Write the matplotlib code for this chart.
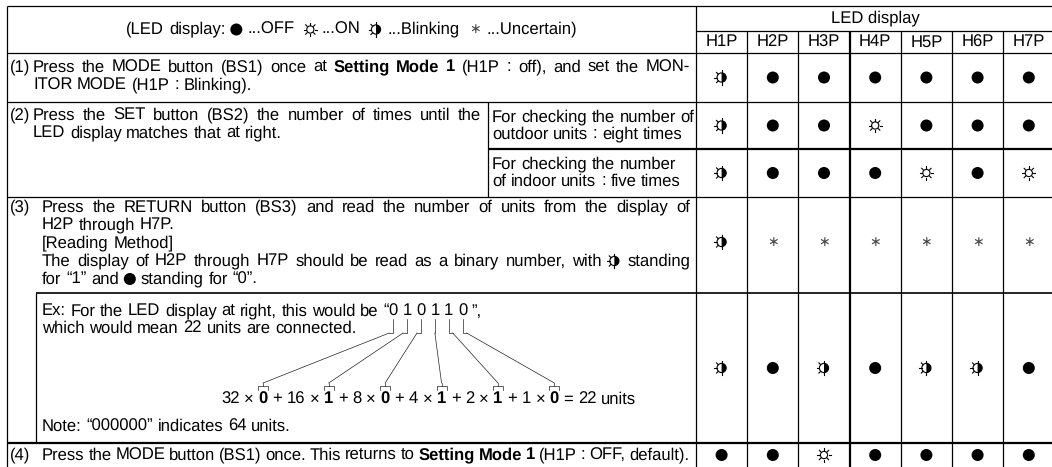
import re
import numpy as np
import matplotlib
matplotlib.use("Agg")
import matplotlib.pyplot as plt
from matplotlib.patches import Circle, Wedge

plt.rcParams["text.hinting"] = "no_hinting"

W, H = 1052, 467
FAM = ["Liberation Sans", "DejaVu Sans"]
FS = 12

# LED column labels and the state of each LED per table row
led_labels = ["H1P", "H2P", "H3P", "H4P", "H5P", "H6P", "H7P"]
row1_leds = ["blink", "off", "off", "off", "off", "off", "off"]
row2_out_leds = ["blink", "off", "off", "on", "off", "off", "off"]
row2_in_leds = ["blink", "off", "off", "off", "on", "off", "on"]
row3_leds = ["blink", "unc", "unc", "unc", "unc", "unc", "unc"]
ex_leds = ["blink", "off", "blink", "off", "blink", "blink", "off"]
row4_leds = ["off", "off", "on", "off", "off", "off", "off"]

# example binary reading
bits = ["0", "1", "0", "1", "1", "0"]
weights = ["32", "16", "8", "4", "2", "1"]
total = "22"

# table grid (pixels)
x_left, x_split, x_led, col_w = 7, 488, 696, 51.2
x_box = 36
y_top, y_sub, y_head, y_r1, y_r2m, y_r2, y_box, y_r4 = 6, 31, 53, 102, 149, 197, 293, 443

fig = plt.figure(figsize=(W / 100, H / 100), dpi=100)
ax = fig.add_axes([0, 0, 1, 1])
ax.set_xlim(0, W)
ax.set_ylim(H, 0)
ax.axis("off")
renderer = fig.canvas.get_renderer()

_widths = {}


def text_width(s, weight="normal"):
    if (s, weight) not in _widths:
        t = ax.text(0, 0, s, fontsize=FS, family=FAM, fontweight=weight)
        _widths[(s, weight)] = t.get_window_extent(renderer).width
        t.remove()
    return _widths[(s, weight)]


SPACE = text_width("a a") - text_width("aa")
SYM_W = 13


def draw_sym(kind, cx, cy):
    lw = 0.8
    if kind == "off":
        ax.add_patch(Circle((cx, cy), 6, color="black", lw=0))
    elif kind == "on":
        r = 3.6
        ax.add_patch(Circle((cx, cy), r, fill=False, ec="black", lw=lw))
        for a in range(0, 360, 45):
            c, s = np.cos(np.radians(a)), np.sin(np.radians(a))
            ax.plot([cx + (r + 1) * c, cx + (r + 3) * c],
                    [cy + (r + 1) * s, cy + (r + 3) * s], color="black", lw=lw)
    elif kind == "blink":
        r = 4.6
        ax.add_patch(Wedge((cx, cy), r, -90, 90, color="black", lw=0))
        ax.add_patch(Circle((cx, cy), r, fill=False, ec="black", lw=lw))
        for a in [90, 135, 180, 225, 270]:
            c, s = np.cos(np.radians(a)), np.sin(np.radians(a))
            ax.plot([cx + r * c, cx + (r + 2.6) * c],
                    [cy + r * s, cy + (r + 2.6) * s], color="black", lw=lw)
    else:
        ax.text(cx, cy, "\u2217", fontsize=10, color="#444", ha="center",
                va="center", family="DejaVu Sans")


def tokens(parts, by_word):
    out = []
    for i, p in enumerate(parts):
        kind, val = ("n", p) if isinstance(p, str) else p
        if kind == "sym":
            out.append(("sym", val, i))
            continue
        pieces = re.split(r"( )", val) if by_word else re.split(r"( +)", val)
        for tok in pieces:
            if tok and tok.strip(" ") == "":
                out.extend([("gap", None, i)] * len(tok))
            elif tok:
                out.append((kind, tok, i))
    return out


def tok_width(kind, val):
    if kind == "sym":
        return SYM_W
    if kind == "gap":
        return SPACE
    return text_width(val, "bold" if kind == "b" else "normal")


def line_width(parts):
    return sum(tok_width(k, v) for k, v, _ in tokens(parts, False))


def rich(x, y, parts, right=None):
    """Write plain / bold pieces and LED symbols on one line.
    If right is given the line is justified to end there. Returns part spans."""
    toks = tokens(parts, right is not None)
    extra = 0
    if right is not None:
        ngap = sum(1 for k, _, _ in toks if k == "gap")
        natural = sum(tok_width(k, v) for k, v, _ in toks)
        extra = (right - x - natural) / max(ngap, 1)
    spans = {}
    cur = x
    for kind, val, i in toks:
        w = tok_width(kind, val)
        if kind == "gap":
            cur += w + extra
            continue
        if kind == "sym":
            draw_sym(val, cur + w / 2, y)
        else:
            ax.text(cur, y, val, fontsize=FS, family=FAM, va="center", ha="left",
                    fontweight="bold" if kind == "b" else "normal")
        a, b = spans.get(i, (cur, cur))
        spans[i] = (min(a, cur), cur + w)
        cur += w
    return spans


def hline(y, x0, x1, lw=0.9):
    ax.plot([x0, x1], [y, y], color="black", lw=lw, solid_capstyle="butt")


def vline(x, y0, y1, lw=0.9):
    ax.plot([x, x], [y0, y1], color="black", lw=lw, solid_capstyle="butt")


x_right = x_led + col_w * len(led_labels)

# grid
hline(y_top, x_left, x_right)
hline(y_sub, x_led, x_right)
hline(y_head, x_left, x_right)
hline(y_r1, x_left, x_right)
hline(y_r2m, x_split, x_right, lw=1.6)
hline(y_r2, x_left, x_right)
hline(y_box, x_box, x_right, lw=1.2)
hline(y_r4, x_left, x_right, lw=1.6)
vline(x_left, y_top, H)
vline(x_led, y_top, H)
vline(x_split, y_r1, y_r2)
vline(x_box, y_box, y_r4)
for k in range(1, len(led_labels)):
    vline(x_led + k * col_w, y_sub, H, lw=1.6 if k == 3 else 0.9)

# header
left_head = ["(LED display: ", ("sym", "off"), " ...OFF  ", ("sym", "on"),
             " ...ON  ", ("sym", "blink"), " ...Blinking  ", ("sym", "unc"),
             " ...Uncertain)"]
rich((x_left + x_led) / 2 - line_width(left_head) / 2, (y_top + y_head) / 2, left_head)
ax.text((x_led + x_right) / 2, (y_top + y_sub) / 2, "LED display", fontsize=FS,
        family=FAM, ha="center", va="center")
for k, lab in enumerate(led_labels):
    ax.text(x_led + (k + 0.5) * col_w, (y_sub + y_head) / 2, lab, fontsize=FS,
            family=FAM, ha="center", va="center")

# row texts
x_num, x_txt, x_txt2 = 10, 33, 42
ax.text(x_num, 67, "(1)", fontsize=FS, family=FAM, va="center")
rich(x_txt, 67, ["Press the MODE button (BS1) once at ", ("b", "Setting Mode 1"),
                 " (H1P : off), and set the MON-"], right=690)
rich(x_txt, 85, ["ITOR MODE (H1P : Blinking)."])

ax.text(x_num, 115, "(2)", fontsize=FS, family=FAM, va="center")
rich(x_txt, 115, ["Press the SET button (BS2) the number of times until the"], right=481)
rich(x_txt, 133, ["LED display matches that at right."])
rich(x_split + 4, 117, ["For checking the number of"])
rich(x_split + 4, 134, ["outdoor units : eight times"])
rich(x_split + 4, 164, ["For checking the number"])
rich(x_split + 4, 181, ["of indoor units : five times"])

ax.text(x_num, 207, "(3)", fontsize=FS, family=FAM, va="center")
rich(x_txt2, 207, ["Press the RETURN button (BS3) and read the number of units from the display of"],
     right=690)
rich(x_txt2, 225, ["H2P through H7P."])
rich(x_txt2, 243, ["[Reading Method]"])
rich(x_txt2, 261, ["The display of H2P through H7P should be read as a binary number, with ",
                   ("sym", "blink"), " standing"], right=690)
rich(x_txt2, 279, ["for \u201c1\u201d and ", ("sym", "off"), " standing for \u201c0\u201d."])

# example box
x_ex = x_box + 6
ex_parts = ["Ex: For the LED display at right, this would be \u201c"]
for i, b in enumerate(bits):
    ex_parts.append(b)
    if i < len(bits) - 1:
        ex_parts.append(" ")
ex_parts.append(" \u201d,")
ex_spans = rich(x_ex, 311, ex_parts)
top_x = [sum(ex_spans[1 + 2 * i]) / 2 for i in range(len(bits))]
rich(x_ex, 328, ["which would mean 22 units are connected."])

eq_parts = []
for i, (wt, b) in enumerate(zip(weights, bits)):
    eq_parts.append((" + " if i else "") + wt + " \u00d7 ")
    eq_parts.append(("b", b))
eq_parts.append(" = " + total + " units")
eq_spans = rich(221, 399, eq_parts)
bot_x = [sum(eq_spans[2 * i + 1]) / 2 for i in range(len(bits))]
rich(x_ex, 426, ["Note: \u201c000000\u201d indicates 64 units."])

# connectors from the binary string to the weighted sum
clw = 0.5
for xt, xb in zip(top_x, bot_x):
    d = xb - xt
    direc = 0 if abs(d) < 20 else np.sign(d)
    ax.plot([xt, xt, xt + direc * 4], [319, 333, 333], color="#222", lw=clw)
    ax.plot([xt + direc * 4, xb], [333, 383], color="#222", lw=clw)
    ax.plot([xb, xb], [383, 386], color="#222", lw=clw)
    ax.plot([xb - 5, xb - 5, xb + 5, xb + 5], [390, 386, 386, 390], color="#222", lw=clw)

# row 4
ax.text(x_num, 455, "(4)", fontsize=FS, family=FAM, va="center")
rich(x_txt2, 455, ["Press the MODE button (BS1) once. This returns to ",
                   ("b", "Setting Mode 1"), " (H1P : OFF, default)."], right=689)

# LED symbols
led_rows = [(row1_leds, (y_head + y_r1) / 2), (row2_out_leds, (y_r1 + y_r2m) / 2),
            (row2_in_leds, (y_r2m + y_r2) / 2), (row3_leds, 242),
            (ex_leds, (y_box + y_r4) / 2), (row4_leds, 455)]
for states, yc in led_rows:
    for k, st in enumerate(states):
        draw_sym(st, x_led + (k + 0.5) * col_w, yc)

fig.savefig("out.png", dpi=100)
